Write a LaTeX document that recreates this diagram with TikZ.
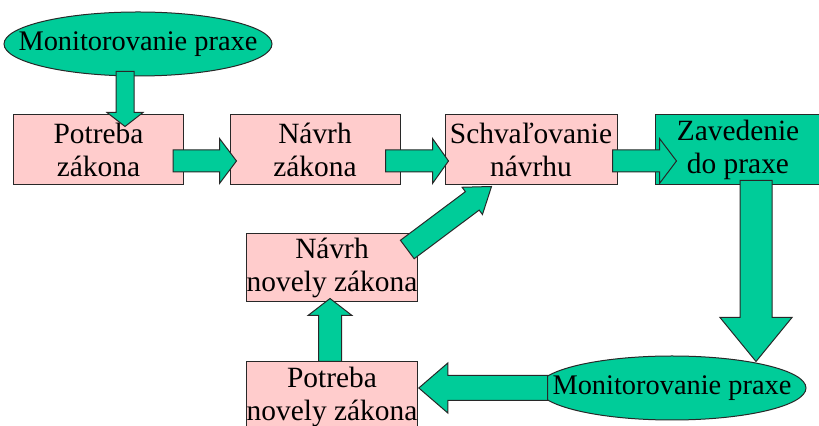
\documentclass[tikz,border=0pt]{standalone}
\usepackage{fontspec}
\setmainfont{Liberation Serif}
\usetikzlibrary{calc,shapes.geometric}
\definecolor{krok}{RGB}{255,204,204}
\definecolor{zelena}{RGB}{0,204,153}
\definecolor{obrys}{RGB}{40,40,40}
% block arrow: start, tip, shaft half width, head half width, head length
\newcommand{\blockarrow}[5]{%
  \coordinate (ba-s) at #1;
  \coordinate (ba-e) at #2;
  \coordinate (ba-h) at ($(ba-e)!#5!(ba-s)$);
  \filldraw[sipka] ($(ba-s)!#3!90:(ba-e)$) -- ($(ba-h)!#3!90:(ba-e)$)
    -- ($(ba-h)!#4!90:(ba-e)$) -- (ba-e) -- ($(ba-h)!#4!-90:(ba-e)$)
    -- ($(ba-h)!#3!-90:(ba-e)$) -- ($(ba-s)!#3!-90:(ba-e)$) -- cycle;
}
\begin{document}
\begin{tikzpicture}[x=0.5pt,y=-0.5pt,
  krokbox/.style={draw=obrys, line width=0.5pt, fill=krok, minimum width=85pt,
    minimum height=35pt, inner sep=0pt, align=center,
    font=\fontsize{14.7}{16.5}\selectfont},
  monitor/.style={ellipse, draw=obrys, line width=0.5pt, fill=zelena,
    minimum width=134pt, minimum height=32pt, inner sep=0pt,
    font=\fontsize{14.2}{16.5}\selectfont},
  sipka/.style={fill=zelena, draw=obrys, line width=0.5pt, line join=miter}]
  \useasboundingbox (0,0) rectangle (819,426);
  % legislative steps
  \node[monitor] (mon1) at (138,44) {\makebox[0pt]{Monitorovanie praxe}};
  \node[krokbox] (pz) at (98.5,150) {Potreba\\zákona};
  \node[krokbox] (nz) at (315,150) {Návrh\\zákona};
  \node[krokbox, minimum width=86pt] (sn) at (531,150) {Schvaľovanie\\návrhu};
  \node[krokbox, fill=zelena, minimum width=83pt] (zp) at (738,150) {Zavedenie\\do praxe};
  \node[krokbox, minimum height=34pt] (nnz) at (332,268) {Návrh\\novely zákona};
  \node[krokbox] (pnz) at (332,397) {Potreba\\novely zákona};
  \node[monitor] (mon2) at (672,388) {\makebox[0pt]{Monitorovanie praxe}};
  % block arrows
  \blockarrow{($(mon1.south)+(-13,-5)$)}{($(pz.north)+(26.5,12)$)}{4.5pt}{9pt}{7pt}
  \blockarrow{($(pz.east)+(-11,11)$)}{($(nz.west)+(7,11)$)}{5.5pt}{11.25pt}{8.5pt}
  \blockarrow{($(nz.east)+(-15,11)$)}{($(sn.west)+(4,11)$)}{5.5pt}{11.25pt}{8pt}
  \blockarrow{($(sn.east)+(-5,11)$)}{($(zp.west)+(22,11)$)}{5.5pt}{11.25pt}{8.5pt}
  \blockarrow{($(zp.south)+(18,-5)$)}{($(mon2.north)+(84,6)$)}{8pt}{18pt}{22pt}
  \blockarrow{($(mon2.west)+(10,0)$)}{($(pnz.east)+(1,-9)$)}{6.25pt}{12.5pt}{14.5pt}
  \blockarrow{($(pnz.north)+(-2,0)$)}{($(nnz.south)+(-2,-4)$)}{5.75pt}{11pt}{8.5pt}
  \blockarrow{($(nnz.north east)+(-10.5,16)$)}{($(sn.south west)+(47,1)$)}{5.75pt}{8.5pt}{12pt}
\end{tikzpicture}
\end{document}
